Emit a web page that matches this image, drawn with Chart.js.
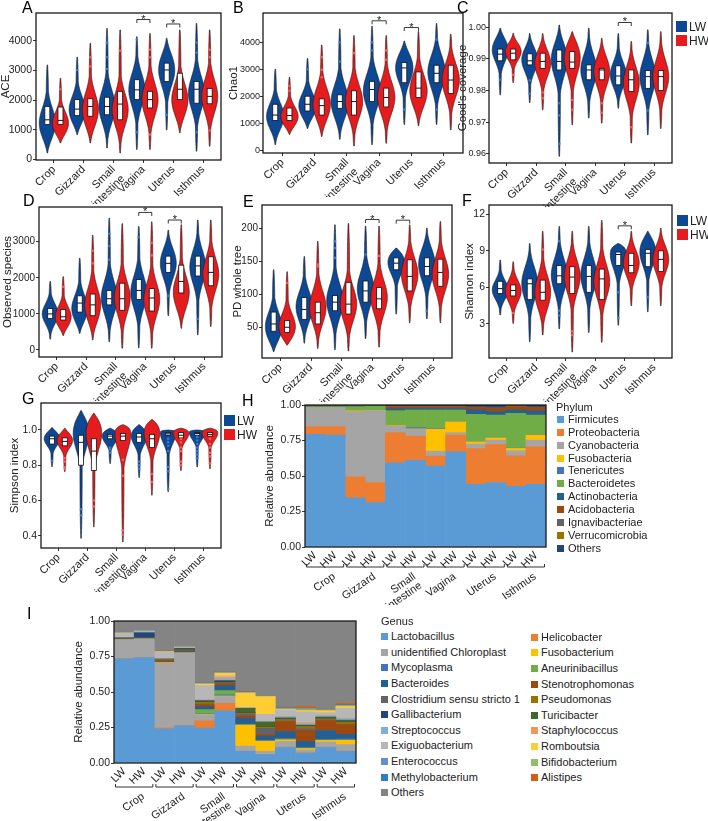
<!DOCTYPE html>
<html><head><meta charset="utf-8">
<script src="https://cdn.jsdelivr.net/npm/chart.js@4.4.1/dist/chart.umd.min.js"></script>
<style>
body{margin:0;background:#fff;width:708px;height:821px;position:relative;overflow:hidden;font-family:"Liberation Sans",Arial,sans-serif;}
canvas{position:absolute;}
.lab{position:absolute;font-size:16px;color:#000;line-height:1;}
.leg{position:absolute;font-size:11px;color:#222;line-height:1;white-space:nowrap;}
.leg2{position:absolute;font-size:12px;color:#222;line-height:1;white-space:nowrap;}
.sq{position:absolute;}
</style></head><body>
<script>
// ---------------- DATA ----------------
const categories = ['Crop','Gizzard',['Small','intestine'],'Vagina','Uterus','Isthmus'];
const groupLabels = ['LW','HW'];
// violin stats per category: [lower end, densest value, upper end, Q1, median, Q3]
const aceLW = [[220,1230,3190,1180,1340,1790],[840,1680,3450,1480,1700,2020],[390,1790,4420,1510,1790,2100],[340,2350,4140,2020,2350,2690],[1000,3020,4090,2630,3020,3250],[280,2240,4590,1900,2370,2630]];
const aceHW = [[560,1230,2740,1180,1320,1770],[560,1680,3920,1460,1790,2050],[220,1680,4370,1340,1870,2300],[340,2020,4250,1740,2020,2300],[900,2020,4370,2020,2370,2910],[450,2130,4370,1880,2130,2400]];
const aceLWOut = [[],[3020],[3050,3450,3940],[920,4050],[1510],[920,3600,3940]];
const aceHWOut = [[2370],[3140,3450],[3670],[840,3450,3700],[],[980,3450,3700]];
const aceSig = [[3,4720],[4,4570]];
const aceTicks = [0,1000,2000,3000,4000];

const chaoLW = [[200,1250,3000,1100,1300,1700],[800,1650,3400,1450,1700,2000],[400,1800,4500,1550,1800,2050],[200,2200,4600,1800,2250,2550],[950,3050,4050,2500,3050,3250],[950,2900,4700,2500,2850,3150]];
const chaoHW = [[580,1250,2700,1100,1280,1560],[500,1700,3900,1300,1650,1900],[150,1800,4250,1300,1800,2200],[250,1950,4250,1600,1950,2300],[900,2200,4400,1950,2300,2900],[750,2600,4300,2100,2600,3150]];
const chaoLWOut = [[],[3000],[3280,4000],[3700,4000],[1500],[1500,4100]];
const chaoHWOut = [[2200,2380],[2700,2980,3450],[3600],[3350,3700],[],[]];
const chaoSig = [[3,4800],[4,4550]];
const chaoTicks = [0,1000,2000,3000,4000];

const goodLW = [[0.9786,0.9928,0.9997,0.9894,0.9915,0.9931],[0.9762,0.9897,0.998,0.9881,0.9894,0.9916],[0.9592,0.9897,1.0007,0.9865,0.9892,0.9928],[0.9713,0.9865,0.9997,0.9834,0.9865,0.9881],[0.9744,0.985,0.998,0.9818,0.9846,0.9878],[0.966,0.9844,0.9992,0.9807,0.9844,0.9863]];
const goodHW = [[0.9825,0.9923,0.9981,0.9897,0.9918,0.9931],[0.9739,0.9886,0.998,0.987,0.9892,0.9918],[0.9692,0.9902,0.9986,0.987,0.989,0.9923],[0.9697,0.986,0.9965,0.9834,0.9865,0.987],[0.9634,0.9823,0.9955,0.9797,0.9834,0.9865],[0.968,0.9844,0.9986,0.98,0.9844,0.9863]];
const goodLWOut = [[0.9834],[0.9832,0.979],[0.976,0.9721,0.9632],[],[],[0.9737,0.995]];
const goodHWOut = [[0.985],[0.9794,0.9776],[0.977,0.9739],[0.976,0.973],[0.9684],[]];
const goodSig = [[4,1.0015]];
const goodTicks = [0.96,0.97,0.98,0.99,1.00];

const obsLW = [[300,1000,1900,870,1000,1150],[460,1150,2540,1050,1300,1500],[230,1450,3650,1250,1420,1650],[60,1600,3420,1400,1650,1950],[950,2400,3320,2150,2400,2600],[420,2300,3600,2050,2330,2600]];
const obsHW = [[400,920,2030,830,920,1120],[280,1250,3180,950,1250,1550],[50,1450,3500,1100,1420,1850],[50,1400,3550,1080,1440,1700],[600,1600,3470,1580,1900,2350],[650,2100,3600,1780,2150,2580]];
const obsLWOut = [[],[],[2500,2880,3220],[3130],[1500],[860]];
const obsHWOut = [[1750],[2400,2750],[],[2620,2970],[],[]];
const obsSig = [[3,3810],[4,3600]];
const obsTicks = [0,1000,2000,3000];

const pdLW = [[13,51,137,44,55,73],[26,81,157,62,77,95],[16,90,205,75,88,98],[33,108,203,88,105,120],[70,148,170,137,147,155],[63,145,200,128,142,155]];
const pdHW = [[23,51,134,42,50,60],[18,80,180,55,72,88],[14,85,207,70,85,118],[20,95,203,78,93,110],[57,130,205,105,127,152],[57,130,210,112,133,153]];
const pdLWOut = [[],[],[155,170,180],[160],[],[75]];
const pdHWOut = [[117],[142,145],[],[158],[],[]];
const pdSig = [[3,213],[4,212]];
const pdTicks = [50,100,150,200];

const shanLW = [[3.74,5.8,8.25,5.5,5.9,6.5],[1.55,6.3,9.6,5.0,6.3,6.7],[2.6,7.0,11.0,6.3,6.95,7.8],[2.3,7.0,11.0,5.6,6.9,7.8],[2.9,8.7,9.6,7.8,8.7,8.9],[4.0,8.9,10.6,7.7,8.8,9.1]];
const shanHW = [[3.05,5.7,8.1,5.3,5.75,6.2],[2.1,5.6,10.6,4.95,5.6,6.6],[0.7,6.9,10.6,5.5,6.85,7.7],[1.5,6.5,11.5,5.0,6.7,7.5],[4.5,8.0,10.6,7.2,7.8,8.8],[4.5,8.3,10.85,7.3,8.3,9.0]];
const shanLWOut = [[],[],[3.7,4.1,9.8],[],[3.5,5.6],[5.2]];
const shanHWOut = [[3.9],[9.1],[2.1,2.4],[],[],[]];
const shanSig = [[4,11.05]];
const shanTicks = [3,6,9,12];

const simLW = [[0.792,0.95,1.014,0.92,0.95,0.965],[0.385,0.98,1.11,0.80,0.93,0.97],[0.81,0.965,1.01,0.95,0.965,0.975],[0.73,0.965,1.03,0.93,0.96,0.98],[0.65,0.985,1.0,0.97,0.978,0.985],[0.79,0.985,1.0,0.97,0.98,0.985]];
const simHW = [[0.764,0.94,1.01,0.91,0.935,0.955],[0.45,0.98,1.095,0.77,0.88,0.95],[0.365,0.975,1.03,0.94,0.965,0.98],[0.63,0.98,1.06,0.90,0.95,0.975],[0.77,0.98,1.01,0.955,0.97,0.985],[0.78,0.982,1.01,0.965,0.975,0.985]];
const simLWOut = [[0.825],[0.55,0.515],[0.87,0.89,0.90],[0.82,0.80,0.78],[0.95,0.93,0.91,0.88,0.79,0.765,0.665],[0.96,0.94,0.92,0.90,0.88,0.86,0.84]];
const simHWOut = [[0.84,0.82,0.79,0.78],[0.60,0.565],[0.83,0.74,0.43,0.405],[0.75,0.705],[0.95,0.93,0.90,0.88,0.82,0.80],[0.95,0.92,0.90,0.87,0.85,0.81]];
const simSig = [];
const simTicks = [0.4,0.6,0.8,1.0];

// stacked composition: 12 columns (LW,HW per organ)
const sampleLabels = ['LW','HW','LW','HW','LW','HW','LW','HW','LW','HW','LW','HW'];
const abundTicks = [0,0.25,0.5,0.75,1];
const phylumNames = ['Firmicutes','Proteobacteria','Cyanobacteria','Fusobacteria','Tenericutes','Bacteroidetes','Actinobacteria','Acidobacteria','Ignavibacteriae','Verrucomicrobia','Others'];
const firmicutes      = [0.793,0.788,0.346,0.313,0.593,0.610,0.569,0.670,0.442,0.454,0.428,0.442];
const proteobacteria  = [0.054,0.059,0.148,0.141,0.212,0.170,0.071,0.118,0.252,0.268,0.214,0.264];
const cyanobacteria   = [0.134,0.134,0.459,0.506,0.045,0.050,0.035,0.017,0.031,0.031,0.036,0.047];
const fusobacteria    = [0.000,0.000,0.007,0.002,0.005,0.002,0.155,0.077,0.016,0.016,0.016,0.035];
const tenericutes     = [0.000,0.000,0.000,0.000,0.002,0.008,0.005,0.002,0.002,0.002,0.002,0.002];
const bacteroidetes   = [0.007,0.007,0.028,0.031,0.103,0.125,0.130,0.081,0.191,0.158,0.245,0.139];
const actinobacteria  = [0.002,0.002,0.002,0.002,0.014,0.011,0.011,0.011,0.031,0.024,0.024,0.029];
const acidobacteria   = [0.002,0.002,0.002,0.001,0.012,0.010,0.010,0.010,0.016,0.023,0.021,0.023];
const ignavibacteriae = [0.002,0.002,0.002,0.001,0.002,0.002,0.002,0.002,0.002,0.002,0.002,0.002];
const verrucomicrobia = [0.002,0.002,0.002,0.001,0.002,0.002,0.002,0.002,0.002,0.002,0.006,0.002];
const phylumOthers    = [0.004,0.004,0.004,0.002,0.010,0.010,0.010,0.010,0.015,0.020,0.006,0.015];
const phylumSeries = [firmicutes,proteobacteria,cyanobacteria,fusobacteria,tenericutes,bacteroidetes,actinobacteria,acidobacteria,ignavibacteriae,verrucomicrobia,phylumOthers];

// genus order (stack bottom -> top)
const genusNames = ['Lactobacillus','Helicobacter','unidentified Chloroplast','Fusobacterium','Mycoplasma','Aneurinibacillus','Bacteroides','Stenotrophomonas','Clostridium sensu stricto 1','Pseudomonas','Gallibacterium','Turicibacter','Streptococcus','Staphylococcus','Exiguobacterium','Romboutsia','Enterococcus','Bifidobacterium','Methylobacterium','Alistipes','Others'];
const lactobacillus   = [0.733,0.742,0.241,0.262,0.246,0.368,0.082,0.059,0.110,0.070,0.110,0.082];
const helicobacter    = [0.002,0.001,0.006,0.001,0.051,0.052,0.002,0.001,0.002,0.002,0.002,0.002];
const chloroplast     = [0.132,0.130,0.456,0.511,0.043,0.048,0.035,0.023,0.040,0.020,0.035,0.046];
const fusobacterium   = [0.000,0.000,0.004,0.001,0.002,0.004,0.148,0.070,0.012,0.010,0.012,0.030];
const mycoplasma      = [0.002,0.001,0.002,0.002,0.004,0.008,0.004,0.004,0.004,0.003,0.003,0.004];
const aneurinibacillus= [0.001,0.000,0.001,0.001,0.030,0.030,0.002,0.002,0.002,0.002,0.002,0.004];
const bacteroides     = [0.002,0.002,0.003,0.008,0.020,0.035,0.042,0.030,0.052,0.045,0.065,0.035];
const stenotrophomonas= [0.003,0.002,0.010,0.006,0.015,0.012,0.015,0.010,0.070,0.075,0.070,0.065];
const clostridium     = [0.001,0.001,0.002,0.002,0.005,0.004,0.015,0.045,0.004,0.015,0.005,0.005];
const pseudomonas     = [0.002,0.001,0.004,0.003,0.012,0.005,0.006,0.008,0.010,0.015,0.008,0.015];
const gallibacterium  = [0.002,0.036,0.002,0.008,0.004,0.010,0.004,0.002,0.004,0.004,0.004,0.004];
const turicibacter    = [0.001,0.000,0.001,0.001,0.008,0.005,0.030,0.035,0.008,0.006,0.008,0.010];
const streptococcus   = [0.002,0.006,0.002,0.003,0.004,0.010,0.002,0.002,0.008,0.010,0.008,0.010];
const staphylococcus  = [0.001,0.000,0.001,0.001,0.002,0.012,0.002,0.002,0.003,0.008,0.002,0.004];
const exiguobacterium = [0.030,0.006,0.045,0.004,0.100,0.010,0.004,0.050,0.045,0.075,0.020,0.070];
const romboutsia      = [0.001,0.000,0.004,0.002,0.010,0.020,0.100,0.125,0.005,0.010,0.015,0.012];
const enterococcus    = [0.002,0.004,0.001,0.001,0.003,0.004,0.002,0.002,0.004,0.004,0.003,0.004];
const bifidobacterium = [0.001,0.000,0.001,0.001,0.003,0.003,0.002,0.002,0.003,0.008,0.002,0.004];
const methylobacterium= [0.002,0.000,0.001,0.001,0.003,0.003,0.002,0.002,0.004,0.003,0.003,0.004];
const alistipes       = [0.001,0.000,0.001,0.001,0.002,0.003,0.003,0.002,0.004,0.012,0.004,0.010];
const genusOthers     = [0.079,0.068,0.212,0.180,0.433,0.354,0.498,0.524,0.606,0.603,0.619,0.580];
const genusSeries = [lactobacillus,helicobacter,chloroplast,fusobacterium,mycoplasma,aneurinibacillus,bacteroides,stenotrophomonas,clostridium,pseudomonas,gallibacterium,turicibacter,streptococcus,staphylococcus,exiguobacterium,romboutsia,enterococcus,bifidobacterium,methylobacterium,alistipes,genusOthers];
// legend order of genus (two columns)
const genusLegendCol1 = ['Lactobacillus','unidentified Chloroplast','Mycoplasma','Bacteroides','Clostridium sensu stricto 1','Gallibacterium','Streptococcus','Exiguobacterium','Enterococcus','Methylobacterium','Others'];
const genusLegendCol2 = ['Helicobacter','Fusobacterium','Aneurinibacillus','Stenotrophomonas','Pseudomonas','Turicibacter','Staphylococcus','Romboutsia','Bifidobacterium','Alistipes'];

// ---------------- STYLE ----------------
const FONT = '"Liberation Sans", Arial, sans-serif';
const LWC = '#0d4894', HWC = '#e51b1d';
const LWPT = '#3a7bd0', HWPT = '#ff5a5a';
const phylumColors = ['#5B9BD5','#ED7D31','#A5A5A5','#FFC000','#4472C4','#70AD47','#255E91','#9E480E','#636363','#997300','#264478'];
const genusColors = ['#5B9BD5','#ED7D31','#A5A5A5','#FFC000','#4472C4','#70AD47','#255E91','#9E480E','#636363','#997300','#264478','#43682B','#7CAFDD','#F1975A','#B7B7B7','#FFCD33','#698ED0','#8CC168','#327DC2','#D26012','#848484'];
Chart.defaults.font.family = FONT;
Chart.defaults.color = '#222';
Chart.defaults.animation = false;

function addCanvas(b){
  const c = document.createElement('canvas');
  c.width = b.cw; c.height = b.ch;
  c.style.left = b.cl+'px'; c.style.top = b.ct+'px';
  c.style.width = b.cw+'px'; c.style.height = b.ch+'px';
  document.body.appendChild(c);
  return c;
}
const borderPlugin = {id:'frame', afterDraw(chart){
  const {ctx, chartArea:a} = chart; ctx.save(); ctx.strokeStyle='#1a1a1a'; ctx.lineWidth=1.3;
  ctx.strokeRect(a.left, a.top, a.right-a.left, a.bottom-a.top); ctx.restore();
}};

// violin outline: bulge around densest value, thin needle tails to the ends
function drawViolin(ctx, y, cx, s, wmax, color){
  const [lo, pk, hi, q1, md, q3] = s;
  const ylo = y.getPixelForValue(lo), yhi = y.getPixelForValue(hi), ypk = y.getPixelForValue(pk);
  const span = Math.abs(ylo - yhi);
  const sig = Math.max(7, Math.min(16, 0.17*span));
  const N = 100, pts = [];
  for (let i=0;i<=N;i++){
    const py = ylo + (yhi-ylo)*i/N;
    let a = py > ypk ? (ylo-py)/Math.max(1e-6, ylo-ypk) : (py-yhi)/Math.max(1e-6, ypk-yhi);
    a = Math.max(0, Math.min(1, a));
    const g = Math.exp(-Math.pow((py-ypk)/sig,2)/2);
    pts.push([py, Math.max(g, 0.11) * (1 - Math.pow(1-a, 4))]);
  }
  ctx.beginPath();
  pts.forEach(([py,w],i)=>{ const px=cx+w*wmax+0.3; i?ctx.lineTo(px,py):ctx.moveTo(px,py); });
  for (let i=pts.length-1;i>=0;i--){ const [py,w]=pts[i]; ctx.lineTo(cx-w*wmax-0.3, py); }
  ctx.closePath(); ctx.fillStyle=color; ctx.fill();
  ctx.strokeStyle='#1a1a1a'; ctx.lineWidth=0.6; ctx.stroke();
  const yt=y.getPixelForValue(q3), yb=y.getPixelForValue(q1), ym=y.getPixelForValue(md);
  ctx.fillStyle='#fff'; ctx.fillRect(cx-2.5, yt, 5, yb-yt);
  ctx.strokeStyle='#111'; ctx.lineWidth=0.8; ctx.strokeRect(cx-2.5, yt, 5, yb-yt);
  ctx.beginPath(); ctx.moveTo(cx-2.5, ym); ctx.lineTo(cx+2.5, ym); ctx.lineWidth=1; ctx.stroke();
}

const OFF = 0.22;
function violinPanel(p){
  const b = p.box;
  b.cw = b.R - b.cl + 8; b.ch = b.B - b.ct + 44;
  const canvas = addCanvas(b);
  const yw = b.L - b.cl;
  const pts = (outs, off) => outs.flatMap((arr,ci)=>arr.map(v=>({x:ci+1+off, y:v})));
  const plugin = {id:'violins',
    beforeDatasetsDraw(chart){
      const {ctx, chartArea:a, scales:{x,y}} = chart;
      const wmax = Math.abs(x.getPixelForValue(1.26)-x.getPixelForValue(1));
      ctx.save(); ctx.beginPath(); ctx.rect(a.left,a.top,a.right-a.left,a.bottom-a.top); ctx.clip();
      p.lw.forEach((s,ci)=>drawViolin(ctx,y,x.getPixelForValue(ci+1-OFF),s,wmax,LWC));
      p.hw.forEach((s,ci)=>drawViolin(ctx,y,x.getPixelForValue(ci+1+OFF),s,wmax,HWC));
      ctx.restore();
    },
    afterDraw(chart){
      const {ctx, scales:{x,y}} = chart;
      ctx.save(); ctx.strokeStyle='#222'; ctx.lineWidth=0.9; ctx.fillStyle='#222';
      ctx.font='11px '+FONT; ctx.textAlign='center'; ctx.textBaseline='alphabetic';
      p.sig.forEach(([ci,v])=>{
        const x1=x.getPixelForValue(ci+1-OFF), x2=x.getPixelForValue(ci+1+OFF), yy=y.getPixelForValue(v);
        ctx.beginPath(); ctx.moveTo(x1,yy+3.5); ctx.lineTo(x1,yy); ctx.lineTo(x2,yy); ctx.lineTo(x2,yy+3.5); ctx.stroke();
        ctx.fillText('*',(x1+x2)/2,yy+3);
      });
      ctx.restore();
    }};
  new Chart(canvas, {
    type:'scatter',
    data:{datasets:[
      {label:groupLabels[0], data:pts(p.lwOut,-OFF), pointRadius:1.3, pointBackgroundColor:LWPT, pointBorderWidth:0},
      {label:groupLabels[1], data:pts(p.hwOut,OFF), pointRadius:1.3, pointBackgroundColor:HWPT, pointBorderWidth:0}
    ]},
    options:{responsive:false, animation:false,
      layout:{padding:{left:0, top:b.T-b.ct, right:8, bottom:0}},
      plugins:{legend:{display:false}, tooltip:{enabled:false}},
      scales:{
        x:{type:'linear', min:0.4, max:6.6,
          afterBuildTicks:s=>{ s.ticks = categories.map((c,i)=>({value:i+1})); },
          ticks:{autoSkip:false, minRotation:45, maxRotation:45, padding:0, font:{size:11}, color:'#222', callback:v=>categories[v-1]},
          grid:{display:true, drawOnChartArea:false, drawTicks:true, tickLength:3, color:'#333'},
          border:{display:false},
          afterFit:s=>{ s.height = 44; }},
        y:{type:'linear', min:p.min, max:p.max,
          afterBuildTicks:s=>{ s.ticks = p.ticks.map(v=>({value:v})); },
          ticks:{padding:p.tp, font:{size:p.tf}, color:'#222', callback:p.fmt},
          grid:{display:true, drawOnChartArea:false, drawTicks:true, tickLength:3, color:'#333'},
          border:{display:false},
          title:{display:true, text:p.title, font:{size:11.5}, color:'#222', padding:{top:0,bottom:0}},
          afterFit:s=>{ s.width = yw; }}
      }},
    plugins:[plugin, borderPlugin]
  });
}

const intFmt = v=>String(v);
violinPanel({lw:aceLW,hw:aceHW,lwOut:aceLWOut,hwOut:aceHWOut,sig:aceSig,ticks:aceTicks,title:'ACE',min:-15,max:4940,fmt:intFmt,tf:10.5,tp:1,box:{cl:-1,ct:0,L:36,T:13,R:221,B:160}});
violinPanel({lw:chaoLW,hw:chaoHW,lwOut:chaoLWOut,hwOut:chaoHWOut,sig:chaoSig,ticks:chaoTicks,title:'Chao1',min:-110,max:5090,fmt:intFmt,tf:9,tp:0,box:{cl:227,ct:0,L:263,T:13,R:463,B:153}});
violinPanel({lw:goodLW,hw:goodHW,lwOut:goodLWOut,hwOut:goodHWOut,sig:goodSig,ticks:goodTicks,title:"Good's coverage",min:0.9571,max:1.0045,fmt:v=>v.toFixed(2),tf:9,tp:0,box:{cl:456,ct:0,L:489,T:13,R:672,B:163}});
violinPanel({lw:obsLW,hw:obsHW,lwOut:obsLWOut,hwOut:obsHWOut,sig:obsSig,ticks:obsTicks,title:'Observed species',min:-194,max:3961,fmt:intFmt,tf:10,tp:1,box:{cl:1,ct:195,L:39,T:207,R:222,B:357}});
violinPanel({lw:pdLW,hw:pdHW,lwOut:pdLWOut,hwOut:pdHWOut,sig:pdSig,ticks:pdTicks,title:'PD whole tree',min:3.5,max:235,fmt:intFmt,tf:10,tp:1,box:{cl:231,ct:195,L:262,T:205,R:452,B:358}});
violinPanel({lw:shanLW,hw:shanHW,lwOut:shanLWOut,hwOut:shanHWOut,sig:shanSig,ticks:shanTicks,title:'Shannon index',min:0.21,max:12.76,fmt:intFmt,tf:10.5,tp:1,box:{cl:463,ct:195,L:489,T:205,R:672,B:358}});
violinPanel({lw:simLW,hw:simHW,lwOut:simLWOut,hwOut:simHWOut,sig:simSig,ticks:simTicks,title:'Simpson index',min:0.33,max:1.153,fmt:v=>v.toFixed(1),tf:10.5,tp:1,box:{cl:8,ct:393,L:41,T:403,R:221,B:548}});

// ---------- stacked composition panels ----------
function stackPanel(names, series, colors, b, brOff){
  b.cw = b.R - b.cl + 8;
  const xh = b.ch - (b.B - b.ct);
  const canvas = addCanvas(b);
  const yw = b.L - b.cl;
  const groupPlugin = {id:'groups', afterDraw(chart){
    const {ctx, chartArea:a} = chart;
    const colW = (a.right-a.left)/12;
    ctx.save(); ctx.strokeStyle='#333'; ctx.lineWidth=1; ctx.fillStyle='#222';
    ctx.font='11px '+FONT;
    categories.forEach((c,g)=>{
      const x1=a.left+colW*2*g+1.5, x2=a.left+colW*(2*g+2)-1.5, yy=a.bottom+brOff;
      ctx.beginPath(); ctx.moveTo(x1,yy-3); ctx.lineTo(x1,yy); ctx.lineTo(x2,yy); ctx.lineTo(x2,yy-3); ctx.stroke();
      const lines = Array.isArray(c)?c:[c];
      ctx.save(); ctx.translate((x1+x2)/2+6, yy+4); ctx.rotate(-35*Math.PI/180);
      ctx.textAlign='right'; ctx.textBaseline='top';
      lines.forEach((t,i)=>ctx.fillText(t,0,i*11));
      ctx.restore();
    });
    ctx.restore();
  }};
  new Chart(canvas, {
    type:'bar',
    data:{labels:sampleLabels, datasets:series.map((d,i)=>({label:names[i], data:d, backgroundColor:colors[i], borderWidth:0, barPercentage:1, categoryPercentage:1}))},
    options:{responsive:false, animation:false,
      layout:{padding:{left:0, top:b.T-b.ct, right:8, bottom:0}},
      plugins:{legend:{display:false}, tooltip:{enabled:false}},
      scales:{
        x:{stacked:true, ticks:{autoSkip:false, minRotation:45, maxRotation:45, padding:2, font:{size:11}, color:'#222'},
          grid:{display:false, drawTicks:false}, border:{display:false},
          afterFit:s=>{ s.height = xh; }},
        y:{stacked:true, min:0, max:1,
          afterBuildTicks:s=>{ s.ticks = abundTicks.map(v=>({value:v})); },
          ticks:{padding:1, font:{size:10.5}, color:'#222', callback:v=>v.toFixed(2)},
          grid:{display:true, drawOnChartArea:false, drawTicks:true, tickLength:3, color:'#333'},
          border:{display:false},
          title:{display:true, text:'Relative abundance', font:{size:11.5}, color:'#222', padding:{top:0,bottom:0}},
          afterFit:s=>{ s.width = yw; }}
      }},
    plugins:[borderPlugin, groupPlugin]
  });
}
stackPanel(phylumNames, phylumSeries, phylumColors, {cl:263,ct:395,L:305,T:405,R:546,B:547,ch:210}, 20);
stackPanel(genusNames, genusSeries, genusColors, {cl:72,ct:611,L:114,T:621,R:356,B:763,ch:210}, 24);

// ---------- HTML labels and legends ----------
function el(cls, txt, x, y){ const d=document.createElement('div'); d.className=cls; d.textContent=txt; d.style.left=x+'px'; d.style.top=y+'px'; document.body.appendChild(d); return d; }
function sq(x,y,s,c){ const d=document.createElement('div'); d.className='sq'; Object.assign(d.style,{left:x+'px',top:y+'px',width:s+'px',height:s+'px',background:c}); document.body.appendChild(d); }
[['A',22,0],['B',233,0],['C',457,0],['D',23,193],['E',243,194],['F',462,193],['G',22,391],['H',242,393],['I',27,606]].forEach(([t,x,y])=>el('lab',t,x,y));
[[676,21],[677,215],[224,415]].forEach(([x,y])=>{
  sq(x,y,11,LWC); el('leg2',groupLabels[0],x+13,y);
  sq(x,y+14,11,HWC); el('leg2',groupLabels[1],x+13,y+14);
});
el('leg','Phylum',556,402);
phylumNames.forEach((n,i)=>{ const cy=419.3+12.9*i; sq(557,Math.round(cy-3.5),7,phylumColors[i]); el('leg',n,568,Math.round(cy-5.5)); });
el('leg','Genus',381,616);
genusLegendCol1.forEach((n,i)=>{ const cy=636.7+15.6*i; sq(381,Math.round(cy-3.5),7,genusColors[genusNames.indexOf(n)]); el('leg',n,391,Math.round(cy-5.5)); });
genusLegendCol2.forEach((n,i)=>{ const cy=637.3+15.6*i; sq(531,Math.round(cy-3.5),7,genusColors[genusNames.indexOf(n)]); el('leg',n,541,Math.round(cy-5.5)); });
</script>
</body></html>
